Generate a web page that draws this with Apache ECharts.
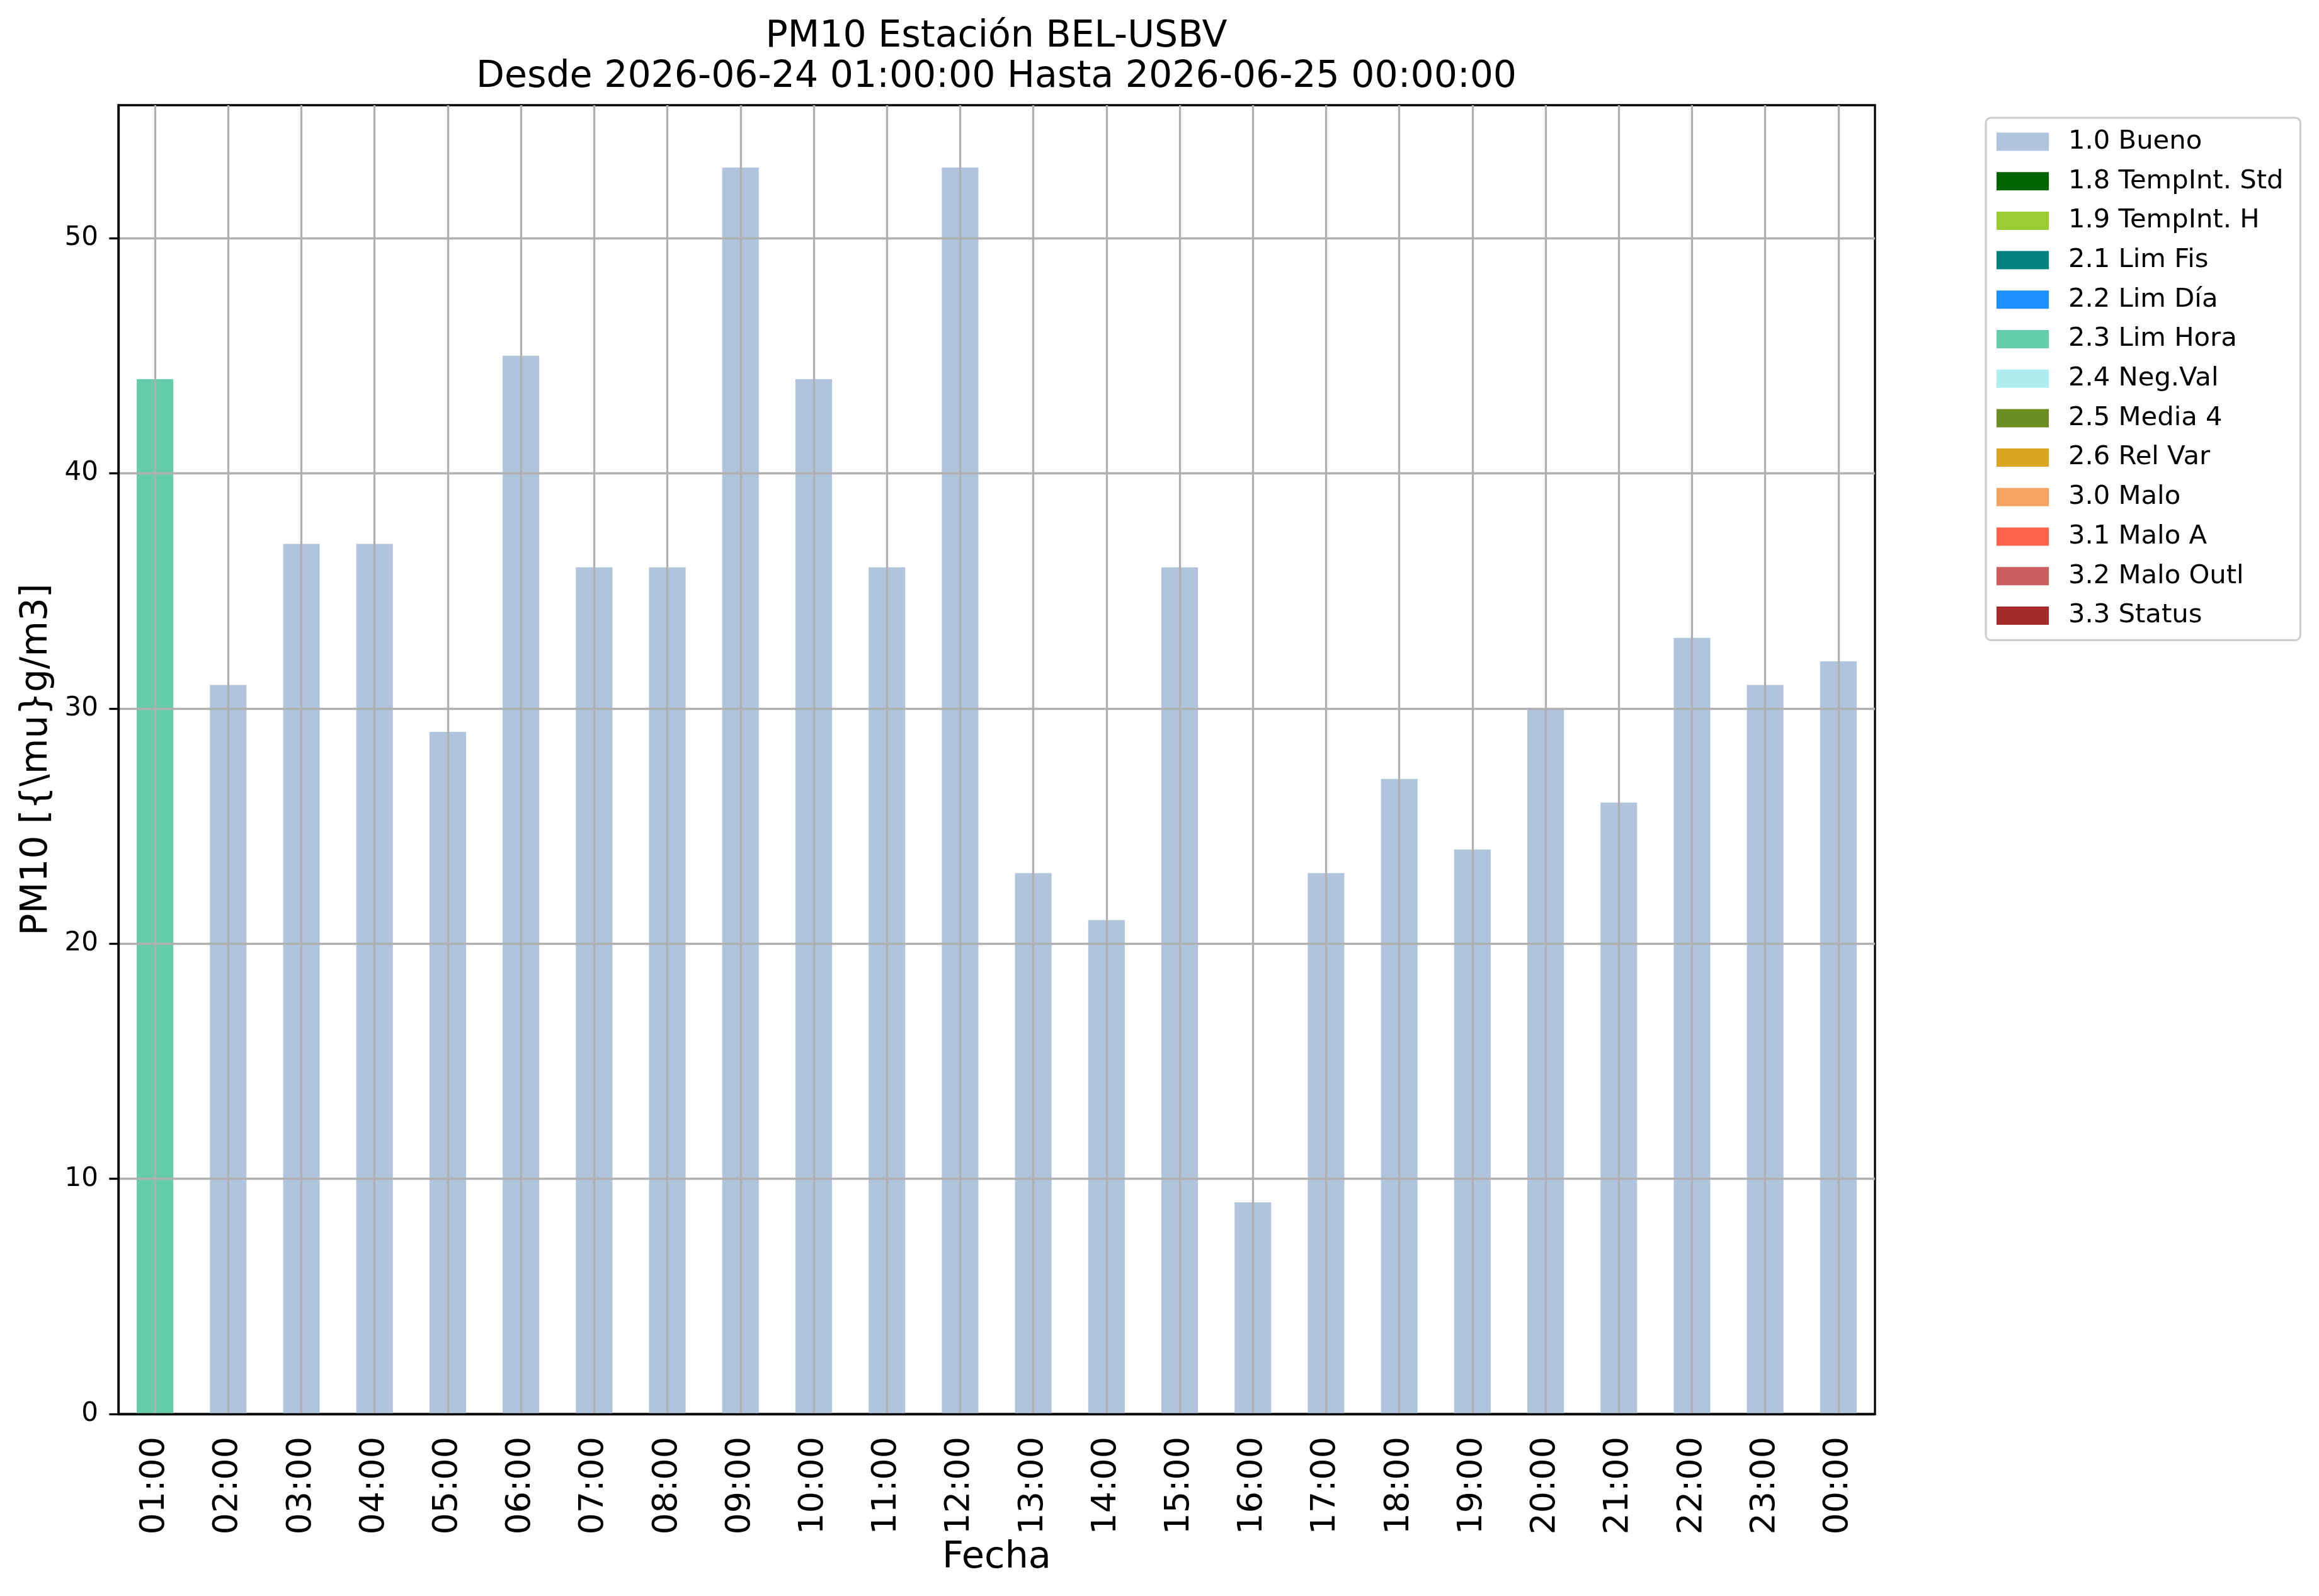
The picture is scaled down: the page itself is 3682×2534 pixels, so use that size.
<!DOCTYPE html>
<html lang="es">
<head>
	<meta charset="UTF-8">
	<title>PM10 Estación BEL-USBV</title>
	<style>
		html, body { margin: 0; padding: 0; background: #fff; }
		#main { width: 3682px; height: 2534px; }
	</style>
</head>
<body>
	<div id="main"></div>
	<script src="https://cdn.jsdelivr.net/npm/echarts@6/dist/echarts.min.js"></script>
	<script>
		// horas (eje x)
		var hours = ['01:00', '02:00', '03:00', '04:00', '05:00', '06:00', '07:00', '08:00',
			'09:00', '10:00', '11:00', '12:00', '13:00', '14:00', '15:00', '16:00',
			'17:00', '18:00', '19:00', '20:00', '21:00', '22:00', '23:00', '00:00'];

		// PM10 por hora
		var values = [44, 31, 37, 37, 29, 45, 36, 36, 53, 44, 36, 53,
			23, 21, 36, 9, 23, 27, 24, 30, 26, 33, 31, 32];

		// bandera de validacion de cada hora (indice en flagNames)
		var hourFlag = [5, 0, 0, 0, 0, 0, 0, 0, 0, 0, 0, 0,
			0, 0, 0, 0, 0, 0, 0, 0, 0, 0, 0, 0];

		var flagNames = ['1.0 Bueno', '1.8 TempInt. Std', '1.9 TempInt. H', '2.1 Lim Fis',
			'2.2 Lim Día', '2.3 Lim Hora', '2.4 Neg.Val', '2.5 Media 4', '2.6 Rel Var',
			'3.0 Malo', '3.1 Malo A', '3.2 Malo Outl', '3.3 Status'];

		var flagColors = ['#b0c4de', '#006400', '#9acd32', '#008080', '#1e90ff', '#66cdaa',
			'#afeeee', '#6b8e23', '#daa520', '#f4a460', '#ff6347', '#cd5c5c', '#a52a2a'];

		var yTicks = [0, 10, 20, 30, 40, 50];

		var font = 'DejaVu Sans';
		var lw = 3.3;   // 0.8pt

		// una serie apilada por bandera, cada hora va a la serie de su bandera
		var series = flagNames.map(function (name, f) {
			return {
				name: name,
				type: 'bar',
				stack: 'pm10',
				barWidth: '50%',
				itemStyle: { color: flagColors[f] },
				emphasis: { disabled: true },
				data: values.map(function (v, i) { return hourFlag[i] === f ? v : null; })
			};
		});

		var myChart = echarts.init(document.getElementById('main'));
		var option = {
			animation: false,
			backgroundColor: '#fff',
			title: {
				text: 'PM10 Estación BEL-USBV\nDesde 2026-06-24 01:00:00 Hasta 2026-06-25 00:00:00',
				left: 1582,
				top: 27,
				padding: 0,
				textAlign: 'center',
				textStyle: {
					fontFamily: font,
					fontSize: 58.5,
					fontWeight: 'normal',
					color: '#000',
					lineHeight: 64
				}
			},
			legend: {
				orient: 'vertical',
				left: 3153,
				top: 187,
				padding: [17, 27, 18, 17],
				itemGap: 20.7,
				itemWidth: 83,
				itemHeight: 29,
				icon: 'rect',
				backgroundColor: '#fff',
				borderColor: '#cccccc',
				borderWidth: 3,
				borderRadius: 8,
				selectedMode: false,
				data: flagNames,
				textStyle: {
					fontFamily: font,
					fontSize: 41.7,
					lineHeight: 41,
					color: '#000',
					padding: [0, 0, 0, 26]
				}
			},
			grid: {
				left: 188,
				top: 167,
				width: 2789,
				height: 2078,
				show: true,
				borderColor: '#000',
				borderWidth: lw,
				backgroundColor: 'transparent'
			},
			xAxis: {
				type: 'category',
				data: hours,
				z: 5,
				name: 'Fecha',
				nameLocation: 'middle',
				nameGap: 192,
				nameTextStyle: { fontFamily: font, fontSize: 59, color: '#000' },
				axisLine: { lineStyle: { color: '#000', width: lw } },
				axisTick: { alignWithLabel: true, interval: 0, length: 14.6, lineStyle: { color: '#000', width: lw } },
				axisLabel: {
					interval: 0,
					rotate: 90,
					margin: 36,
					fontFamily: font,
					fontSize: 54,
					color: '#000'
				},
				splitLine: { show: true, alignWithLabel: true, interval: 0, lineStyle: { color: '#b0b0b0', width: lw } }
			},
			yAxis: {
				type: 'value',
				min: 0,
				max: 55.65,
				interval: 10,
				z: 5,
				name: 'PM10 [{\\mu}g/m3]',
				nameLocation: 'middle',
				nameGap: 100,
				nameTextStyle: { fontFamily: font, fontSize: 58, color: '#000' },
				axisLine: { show: true, lineStyle: { color: '#000', width: lw } },
				axisTick: { show: true, customValues: yTicks, length: 14.6, lineStyle: { color: '#000', width: lw } },
				axisLabel: {
					customValues: yTicks,
					margin: 32,
					fontFamily: font,
					fontSize: 42,
					color: '#000'
				},
				splitLine: { show: true, lineStyle: { color: '#b0b0b0', width: lw } }
			},
			series: series
		};

		myChart.setOption(option);
	</script>
</body>
</html>
